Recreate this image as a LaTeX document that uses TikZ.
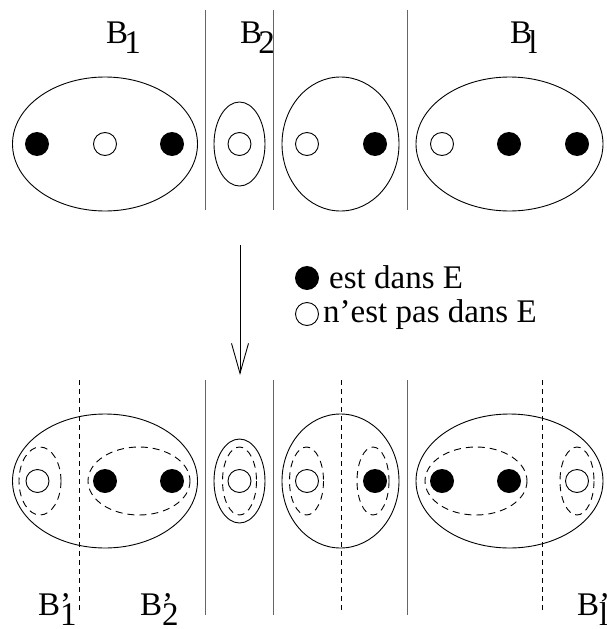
\documentclass[tikz,border=0pt]{standalone}
\usepackage{fontspec}
\setmainfont{Liberation Serif}
\usetikzlibrary{arrows.meta}

\newcommand{\blabel}[1]{B\kern-0.12em\raisebox{-0.32em}{#1}}
\newcommand{\bplabel}[1]{B\rlap{’}\raisebox{-0.32em}{#1}}

\begin{document}
\begin{tikzpicture}[
    x=1pt, y=-1pt,
    bord/.style={line width=0.9pt},
    sep/.style={line width=1pt, black!60},
    cut/.style={line width=0.9pt, dash pattern=on 5pt off 4pt},
    part/.style={line width=0.9pt, dash pattern=on 7pt off 5pt},
    inE/.style={circle, fill=black, minimum size=24pt, inner sep=0pt},
    notE/.style={circle, draw, line width=0.9pt, minimum size=23pt, inner sep=0pt},
    lab/.style={anchor=base west, inner sep=0pt, font=\fontsize{33}{40}\selectfont}
]
\useasboundingbox (0,0) rectangle (607,629);

% --- Rangee du haut ---
\draw[sep] (205,10) -- (205,210);
\draw[sep] (273,10) -- (273,210);
\draw[sep] (407,10) -- (407,210);

\draw[bord] (105,144) ellipse [x radius=92.5, y radius=67];
\draw[bord] (239.5,144) ellipse [x radius=25.5, y radius=42];
\draw[bord] (340.5,144) ellipse [x radius=58.5, y radius=67];
\draw[bord] (509.5,144) ellipse [x radius=93.5, y radius=67];

\node[inE] (h1) at (37,144) {};
\node[notE] (h2) at (105,144) {};
\node[inE] (h3) at (172,144) {};
\node[notE] (h4) at (239.5,144) {};
\node[notE] (h5) at (307,144) {};
\node[inE] (h6) at (375,144) {};
\node[notE] (h7) at (442,144) {};
\node[inE] (h8) at (509,144) {};
\node[inE] (h9) at (577,144) {};

% Etiquettes des blocs
\node[lab] (B1) at (106,43) {\blabel{1}};
\node[lab] (B2) at (240,43) {\blabel{2}};
\node[lab] (Bl) at (510,43) {\blabel{l}};

% --- Fleche et legende ---
\coordinate (from) at (240,245);
\coordinate (to) at (240,375);
\draw[line width=0.9pt, -{Straight Barb[length=30pt, width=17pt]}] (from) -- (to);

\node[inE] (kin) at (307,278) {};
\node[notE] (kout) at (307,314) {};
\node[lab] (tin) at (329,288) {est dans E};
\node[lab] (tout) at (323,322) {n’est pas dans E};

% --- Rangee du bas ---
\draw[sep] (205,380) -- (205,615);
\draw[sep] (273,380) -- (273,615);
\draw[sep] (407,380) -- (407,615);
\draw[cut] (79,380) -- (79,612);
\draw[cut] (341,380) -- (341,612);
\draw[cut] (542,380) -- (542,612);

\draw[bord] (105,481) ellipse [x radius=92.5, y radius=67];
\draw[bord] (239.5,481) ellipse [x radius=25.5, y radius=42];
\draw[bord] (340.5,481) ellipse [x radius=58.5, y radius=67];
\draw[bord] (509.5,481) ellipse [x radius=93.5, y radius=67];

% Parties en pointilles
\draw[part] (40,481) ellipse [x radius=21, y radius=34];
\draw[part] (139,481) ellipse [x radius=51, y radius=34];
\draw[part] (239.5,481) ellipse [x radius=17, y radius=34];
\draw[part] (306.5,481) ellipse [x radius=17, y radius=34];
\draw[part] (373,481) ellipse [x radius=16, y radius=34];
\draw[part] (476,481) ellipse [x radius=51, y radius=34];
\draw[part] (577,481) ellipse [x radius=17, y radius=34];

\node[notE] (b1) at (37.5,481) {};
\node[inE] (b2) at (105,481) {};
\node[inE] (b3) at (172,481) {};
\node[notE] (b4) at (239.5,481) {};
\node[notE] (b5) at (307,481) {};
\node[inE] (b6) at (375,481) {};
\node[inE] (b7) at (442,481) {};
\node[inE] (b8) at (509,481) {};
\node[notE] (b9) at (577,481) {};

% Etiquettes des nouveaux blocs
\node[lab] (Bp1) at (38,615) {\bplabel{1}};
\node[lab] (Bp2) at (140,615) {\bplabel{2}};
\node[lab] (Bpl) at (577,615) {\bplabel{l}};

\end{tikzpicture}
\end{document}
